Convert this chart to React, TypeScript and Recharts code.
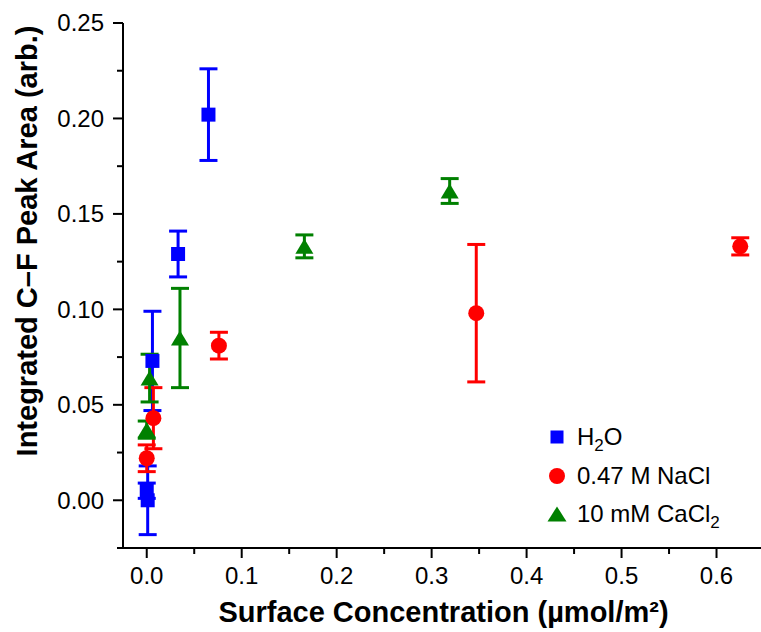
import { ScatterChart, Scatter, XAxis, YAxis, ErrorBar } from 'recharts'

// H2O series
const h2oX = [0.0, 0.001, 0.006, 0.033, 0.065]
const h2oY = [0.005, 0.0, 0.073, 0.129, 0.202]
const h2oErr = [0.004, 0.018, 0.026, 0.012, 0.024]

// 0.47 M NaCl series
const naclX = [0.0, 0.007, 0.076, 0.347, 0.625]
const naclY = [0.022, 0.043, 0.081, 0.098, 0.133]
const naclErr = [0.007, 0.016, 0.007, 0.036, 0.0045]

// 10 mM CaCl2 series
const caclX = [0.0, 0.003, 0.035, 0.166, 0.319]
const caclY = [0.037, 0.064, 0.085, 0.133, 0.162]
const caclErr = [0.0045, 0.0125, 0.026, 0.006, 0.0065]

const xTicks = [0, 0.05, 0.1, 0.15, 0.2, 0.25, 0.3, 0.35, 0.4, 0.45, 0.5, 0.55, 0.6, 0.65]
const yTicks = [-0.025, 0, 0.025, 0.05, 0.075, 0.1, 0.125, 0.15, 0.175, 0.2, 0.225, 0.25]
const yMajorTicks = [0, 0.05, 0.1, 0.15, 0.2, 0.25]

const xDomain = [-0.025, 0.65]
const yDomain = [-0.025, 0.25]

const BLUE = '#0000ff'
const RED = '#ff0000'
const GREEN = '#008000'
const FONT = '"Liberation Sans", Arial, Helvetica, sans-serif'

const build = (xs: number[], ys: number[], es: number[]) =>
  xs.map((x, i) => ({ x, y: ys[i], err: es[i] }))

const h2oData = build(h2oX, h2oY, h2oErr)
const naclData = build(naclX, naclY, naclErr)
const caclData = build(caclX, caclY, caclErr)

const isMajor = (v: number, step: number) => Math.abs(v / step - Math.round(v / step)) < 1e-6

function LeftTick(props: any) {
  const { x, y, payload } = props
  const v = payload.value
  const major = isMajor(v, 0.05)
  return (
    <g>
      <line x1={x - (major ? 10 : 6)} x2={x} y1={y} y2={y} stroke="#000" strokeWidth={2} />
      {major && (
        <text x={x - 19} y={y} dy="0.35em" textAnchor="end" fontSize={24} fontFamily={FONT} fill="#000">
          {v.toFixed(2)}
        </text>
      )}
    </g>
  )
}

function BottomTick(props: any) {
  const { x, y, payload } = props
  const v = payload.value
  const major = isMajor(v, 0.1)
  return (
    <g>
      <line x1={x} x2={x} y1={y} y2={y + (major ? 10 : 6)} stroke="#000" strokeWidth={2} />
      {major && (
        <text x={x} y={y + 36} textAnchor="middle" fontSize={24} fontFamily={FONT} fill="#000">
          {v.toFixed(1)}
        </text>
      )}
    </g>
  )
}

function TopTick(props: any) {
  const { x, y } = props
  return <line x1={x} x2={x} y1={y - 1} y2={y + 3} stroke="#000" strokeWidth={2} />
}

function RightTick(props: any) {
  const { x, y } = props
  return <line x1={x - 5} x2={x} y1={y} y2={y} stroke="#000" strokeWidth={2} />
}

const Square = (p: any) => <rect x={p.cx - 7} y={p.cy - 7} width={14} height={14} fill={BLUE} />
const Dot = (p: any) => <circle cx={p.cx} cy={p.cy} r={8} fill={RED} />
const Tri = (p: any) => (
  <polygon
    points={`${p.cx},${p.cy - 7.5} ${p.cx + 9},${p.cy + 7.5} ${p.cx - 9},${p.cy + 7.5}`}
    fill={GREEN}
  />
)

function YTitle(props: any) {
  const vb = props.viewBox
  const cx = vb.x + 37
  const cy = vb.y + 218
  return (
    <text
      transform={`translate(${cx}, ${cy}) rotate(-90)`}
      textAnchor="middle"
      fontSize={29}
      fontWeight="bold"
      fontFamily={FONT}
      fill="#000"
    >
      Integrated C–F Peak Area (arb.)
    </text>
  )
}

const legendRow = { display: 'flex', alignItems: 'center', height: 38.5 } as const

export default function App() {
  return (
    <div style={{ position: 'absolute', left: 0, top: 0, width: 761, height: 632, overflow: 'hidden', background: '#fff' }}>
      <ScatterChart width={780} height={632} margin={{ top: 23, right: 16, bottom: 0, left: 0 }}>
        <XAxis
          xAxisId={0}
          type="number"
          dataKey="x"
          domain={xDomain}
          allowDataOverflow
          ticks={xTicks}
          interval={0}
          height={84}
          tickSize={0}
          tickMargin={0}
          tickLine={false}
          tick={<BottomTick />}
          axisLine={{ stroke: '#000', strokeWidth: 2 }}
          label={{
            value: 'Surface Concentration (µmol/m²)',
            position: 'insideBottom',
            offset: 10,
            fontSize: 29,
            fontWeight: 'bold',
            fontFamily: FONT,
            fill: '#000',
          }}
        />
        <XAxis
          xAxisId="top"
          orientation="top"
          type="number"
          dataKey="x"
          domain={xDomain}
          allowDataOverflow
          ticks={xTicks.slice(0, 13)}
          interval={0}
          height={0}
          tickSize={0}
          tickMargin={0}
          tickLine={false}
          tick={<TopTick />}
          axisLine={{ stroke: '#000', strokeWidth: 2 }}
        />
        <YAxis
          yAxisId={0}
          type="number"
          dataKey="y"
          domain={yDomain}
          allowDataOverflow
          ticks={yTicks}
          interval={0}
          width={123}
          tickSize={0}
          tickMargin={0}
          tickLine={false}
          tick={<LeftTick />}
          axisLine={{ stroke: '#000', strokeWidth: 2 }}
          label={<YTitle />}
        />
        <YAxis
          yAxisId="right"
          orientation="right"
          type="number"
          dataKey="y"
          domain={yDomain}
          allowDataOverflow
          ticks={yMajorTicks}
          interval={0}
          width={0}
          tickSize={0}
          tickMargin={0}
          tickLine={false}
          tick={<RightTick />}
          axisLine={{ stroke: '#000', strokeWidth: 2 }}
        />
        <Scatter name="H2O" data={h2oData} shape={Square} isAnimationActive={false}>
          <ErrorBar dataKey="err" direction="y" width={9} strokeWidth={3} stroke={BLUE} />
        </Scatter>
        <Scatter name="0.47 M NaCl" data={naclData} shape={Dot} isAnimationActive={false}>
          <ErrorBar dataKey="err" direction="y" width={9} strokeWidth={3} stroke={RED} />
        </Scatter>
        <Scatter name="10 mM CaCl2" data={caclData} shape={Tri} isAnimationActive={false}>
          <ErrorBar dataKey="err" direction="y" width={9} strokeWidth={3} stroke={GREEN} />
        </Scatter>
      </ScatterChart>
      <div
        style={{
          position: 'absolute',
          left: 547,
          top: 418,
          fontFamily: FONT,
          fontSize: 24,
          color: '#000',
          lineHeight: 1,
        }}
      >
        <div style={legendRow}>
          <svg width={20} height={20} style={{ marginRight: 10 }}>
            <rect x={3.5} y={3.5} width={13} height={13} fill={BLUE} />
          </svg>
          <span>
            H<span style={{ fontSize: 17, position: 'relative', top: 6 }}>2</span>O
          </span>
        </div>
        <div style={legendRow}>
          <svg width={20} height={20} style={{ marginRight: 10 }}>
            <circle cx={10} cy={10} r={8} fill={RED} />
          </svg>
          <span>0.47 M NaCl</span>
        </div>
        <div style={legendRow}>
          <svg width={20} height={20} style={{ marginRight: 10 }}>
            <polygon points="10,2.5 19.5,17.5 0.5,17.5" fill={GREEN} />
          </svg>
          <span>
            10 mM CaCl<span style={{ fontSize: 17, position: 'relative', top: 6 }}>2</span>
          </span>
        </div>
      </div>
    </div>
  )
}
